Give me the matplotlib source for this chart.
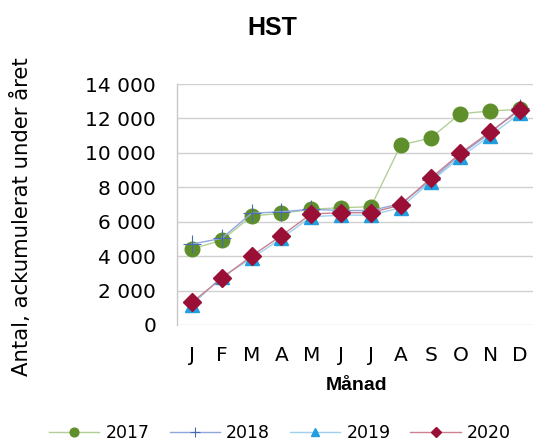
import matplotlib
matplotlib.use("Agg")
import matplotlib.pyplot as plt
from matplotlib.ticker import FuncFormatter

months = ["J", "F", "M", "A", "M", "J", "J", "A", "S", "O", "N", "D"]
y2017 = [4420, 4920, 6330, 6490, 6720, 6815, 6870, 10455, 10860, 12275, 12430, 12530]
y2018 = [4700, 5035, 6490, 6580, 6720, 6650, 6650, 7050, 8400, 9900, 11150, 12600]
y2019 = [1160, 2800, 3870, 5035, 6290, 6380, 6380, 6815, 8325, 9740, 11000, 12300]
y2020 = [1315, 2710, 4010, 5190, 6450, 6525, 6525, 6970, 8520, 9975, 11230, 12490]
years = ["2017", "2018", "2019", "2020"]

plt.rcParams['font.family'] = ['DejaVu Sans']
fig = plt.figure(figsize=(5.33, 4.43), dpi=100)
ax = fig.add_axes([177/533, 118/443, (535-177)/533, (325-84)/443])

x = list(range(len(months)))
ax.plot(x, y2017, color='#b3cf98', lw=1.0, marker='o', ms=10.5,
        mfc='#5f8f2b', mec='#5f8f2b', label=years[0], zorder=3)
ax.plot(x, y2018, color='#8ea8dc', lw=1.0, marker='+', ms=13, mew=0.8,
        mec='#4a6bb0', label=years[1], zorder=4)
ax.plot(x, y2019, color='#9fd0ee', lw=1.0, marker='^', ms=10,
        mfc='#1f9ee0', mec='#1f9ee0', label=years[2], zorder=3)
ax.plot(x, y2020, color='#c9808f', lw=1.0, marker='D', ms=9,
        mfc='#9a0f35', mec='#9a0f35', label=years[3], zorder=5)

ax.set_xlim(-0.5, len(months) - 0.5)
ax.set_ylim(0, 14000)
ax.set_yticks(range(0, 14001, 2000))
ax.yaxis.set_major_formatter(FuncFormatter(lambda v, p: f"{int(v):,}".replace(",", " ")))
ax.set_xticks(x)
ax.set_xticklabels(months)
ax.tick_params(axis='both', length=0, labelsize=14.5, colors='black')
ax.tick_params(axis='y', pad=15)
ax.tick_params(axis='x', pad=15)
ax.grid(axis='y', color='#d0d0d0', lw=1)
ax.set_axisbelow(True)
for s in ['top', 'right', 'bottom']:
    ax.spines[s].set_visible(False)
ax.spines['left'].set_color('#c8c8c8')
ax.spines['left'].set_linewidth(1)

fig.text(272/533, 1 - 28/443, "HST", ha='center', va='center', fontsize=18,
         fontweight='bold', family='Liberation Sans')
fig.text(357/533, 1 - 385/443, "Månad", ha='center', va='center', fontsize=14,
         fontweight='bold', family='Liberation Sans')
fig.text(22/533, 1 - 217/443, "Antal, ackumulerat under året", ha='center', va='center',
         rotation=90, fontsize=15.3)

fig.legend(loc='center', bbox_to_anchor=(280/533, 1 - 433/443), ncol=4, frameon=False,
           fontsize=12.5, handlelength=2.9, handletextpad=0.35, columnspacing=1.15,
           markerscale=0.6)

fig.savefig("out.png", dpi=100)
